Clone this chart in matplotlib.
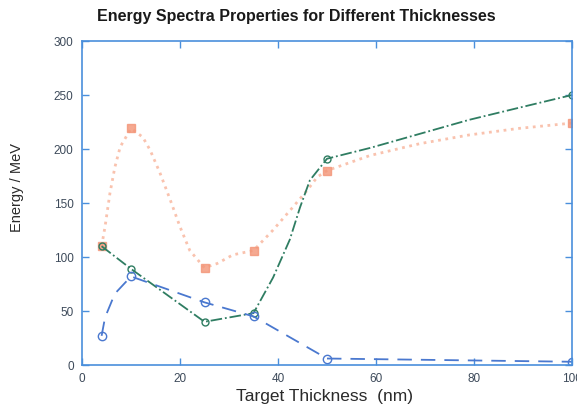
import matplotlib
import matplotlib.pyplot as plt

matplotlib.use("Agg")

# thickness values (nm) at the measured points
thickness = [4, 10, 25, 35, 50, 100]

# measured energies (MeV) at each thickness
orange_energy = [110, 219, 90, 106, 180, 224]
green_energy = [110, 89, 40, 48, 191, 250]
blue_energy = [27, 82, 58, 45, 6, 3]

# points (the lines between markers)
orange_curve_x = [4, 4.7, 5.7, 6.7, 7.8, 10, 12.4, 13.9, 15.9, 18, 20, 22, 25,
                  27.6, 30.8, 35, 39, 43, 46, 48, 50, 58.8, 69, 79, 89, 100]
orange_curve_y = [110, 128, 159, 183, 202, 219, 211, 199, 178, 153, 128, 106, 90,
                  94, 102, 106, 125, 146, 162, 174, 180, 194, 205, 213, 219, 224]
green_curve_x = [4, 10, 25, 35, 39, 42.4, 44.5, 46.5, 50, 58.8, 79, 89, 100]
green_curve_y = [110, 89, 40, 48, 81, 116, 146, 171, 191, 201, 227, 238, 250]
blue_curve_x = [4, 4.7, 6.7, 10, 25, 35, 50, 100]
blue_curve_y = [27, 44, 66, 82, 58, 45, 6, 3]

spine_color = "#4a8fdc"
orange = "#f7a98c"
green = "#2f7d62"
blue = "#4a78cf"

plt.rcParams["font.family"] = ["Liberation Sans", "DejaVu Sans"]

fig = plt.figure(figsize=(5.77, 4.12), dpi=100)
ax = fig.add_axes([82 / 577, 1 - 365 / 412, 490 / 577, 324 / 412])

ax.plot(orange_curve_x, orange_curve_y, color=orange, linestyle=":", linewidth=2.0, alpha=0.7)
ax.plot(thickness, orange_energy, linestyle="none", marker="s", markersize=5.5,
        color="#f39476", alpha=0.8)

ax.plot(green_curve_x, green_curve_y, color=green, linestyle="-.", linewidth=1.3)
ax.plot(thickness, green_energy, linestyle="none", marker="o", markersize=5,
        markerfacecolor="none", markeredgecolor=green, markeredgewidth=1.0)

ax.plot(blue_curve_x, blue_curve_y, color=blue, linestyle=(0, (8, 5)), linewidth=1.3)
ax.plot(thickness, blue_energy, linestyle="none", marker="o", markersize=6,
        markerfacecolor="none", markeredgecolor=blue, markeredgewidth=1.0)

ax.set_xlim(0, 100)
ax.set_ylim(0, 300)
ax.set_xticks([0, 20, 40, 60, 80, 100])
ax.set_yticks([0, 50, 100, 150, 200, 250, 300])
ax.tick_params(direction="in", length=5, width=1, color=spine_color, labelsize=8.5,
               labelcolor="#3d4a5a", top=True, right=True, pad=6)
for spine in ax.spines.values():
    spine.set_color(spine_color)
    spine.set_linewidth(1.2)

fig.text(296 / 577, 1 - 17 / 412, "Energy Spectra Properties for Different Thicknesses",
         ha="center", va="center", fontsize=11.5, fontweight="bold", color="#1a1a1a")
fig.text(325 / 577, 1 - 396 / 412, "Target Thickness  (nm)", ha="center", va="center",
         fontsize=12.5, color="#2a2a2a")
fig.text(17 / 577, 1 - 188 / 412, "Energy / MeV", ha="center", va="center",
         rotation=90, fontsize=10.5, color="#2a2a2a")

fig.savefig("out.png", dpi=100)
